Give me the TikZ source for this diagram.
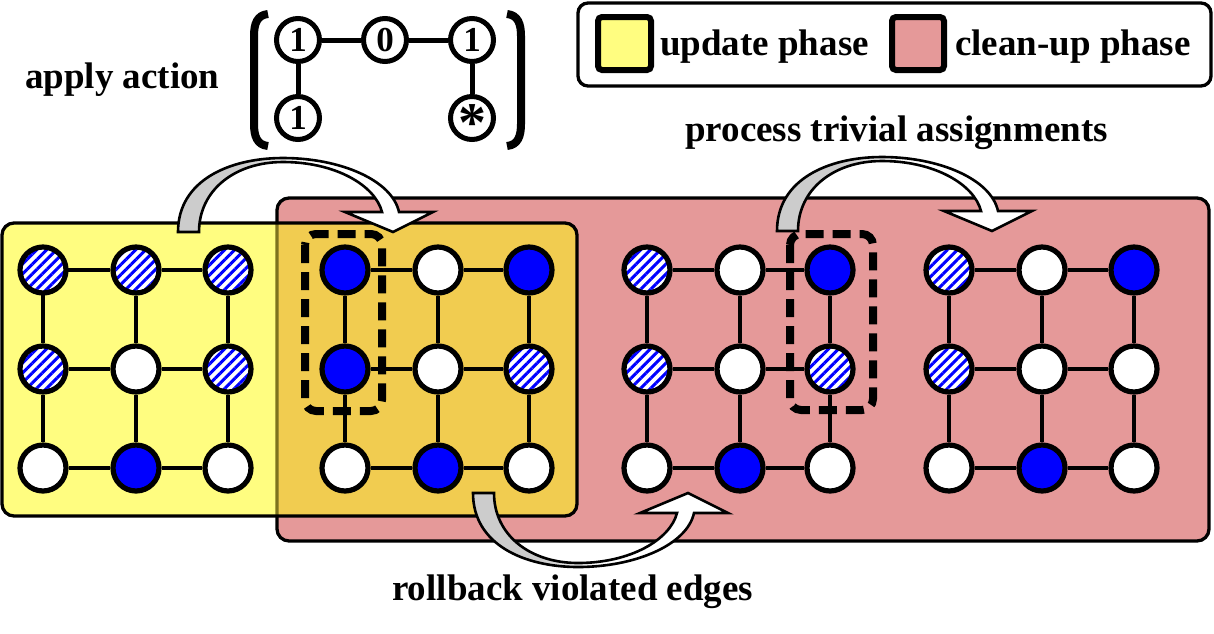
\documentclass[tikz,border=0pt]{standalone}
\usepackage{fontspec}
\setmainfont{Liberation Serif}
\usetikzlibrary{patterns.meta}
\definecolor{ylw}{RGB}{255,253,128}
\definecolor{pnk}{RGB}{229,153,153}
\definecolor{ovl}{RGB}{241,204,80}
\definecolor{olv}{RGB}{125,115,30}
\definecolor{arrg}{RGB}{204,204,204}
\pgfdeclarehorizontalshading{arrowshade}{100bp}{color(0bp)=(arrg); color(38bp)=(arrg); color(50bp)=(white); color(100bp)=(white)}
\newcommand\mkgrid[4]{%
  \foreach \xx/\s [count=\c from 0] in {#2} {\node[\s] (#1-0-\c) at (\xx,270) {};}
  \foreach \xx/\s [count=\c from 0] in {#3} {\node[\s] (#1-1-\c) at (\xx,369) {};}
  \foreach \xx/\s [count=\c from 0] in {#4} {\node[\s] (#1-2-\c) at (\xx,468) {};}
  \foreach \r in {0,1,2} {\draw[gedge] (#1-\r-0) -- (#1-\r-1) -- (#1-\r-2);}
  \foreach \c in {0,1,2} {\draw[gedge] (#1-0-\c) -- (#1-1-\c) -- (#1-2-\c);}
}
\begin{document}
\begin{tikzpicture}[x=1pt,y=-1pt,
  gnode/.style={circle, draw=black, line width=5.2pt, minimum size=46pt, inner sep=0pt},
  wn/.style={gnode, fill=white},
  bn/.style={gnode, fill=blue},
  hn/.style={gnode, preaction={fill=white}, pattern={Lines[angle=45,distance=7pt,line width=3pt]}, pattern color=blue},
  gedge/.style={line width=4.3pt},
  anode/.style={circle, draw=black, line width=5pt, minimum size=43pt, inner sep=0pt, fill=white, font=\fontsize{35}{35}\selectfont\bfseries, text height=23pt, text depth=0pt},
  aedge/.style={line width=5pt},
  lbl/.style={inner sep=0pt, font=\fontsize{37}{40}\selectfont\bfseries},
  frame/.style={line width=3.3pt, rounded corners=12pt},
  dashbox/.style={line width=8pt, dash pattern=on 18pt off 9pt, rounded corners=11pt},
  legsq/.style={line width=6pt, rounded corners=4pt},
  bentarrow/.pic={\shadedraw[shading=arrowshade, draw=black, line width=2.6pt, line join=miter]
    (0,0) .. controls (0,-52) and (52,-74) .. (105,-74) .. controls (162,-74) and (214,-52) .. (221,-20)
    -- (255,-20) -- (215,0) -- (167,-20) -- (204,-20)
    .. controls (197,-47) and (157,-70) .. (105,-70) .. controls (57,-70) and (21,-42) .. (21,0) -- cycle;}
]
\useasboundingbox (0,0) rectangle (1214,633);
% phase boxes
\draw[frame, fill=pnk] (277,198) rectangle (1209,541);
\fill[ylw, rounded corners=12pt] (2,223) rectangle (577,516);
\begin{scope}
  \clip[rounded corners=12pt] (277,198) rectangle (1209,541);
  \fill[ovl, rounded corners=12pt] (2,223) rectangle (577,516);
\end{scope}
\begin{scope}
  \clip[rounded corners=12pt] (2,223) rectangle (577,516);
  \draw[frame, draw=olv] (277,198) rectangle (1209,541);
\end{scope}
\draw[frame] (2,223) rectangle (577,516);
% legend
\draw[line width=3.3pt, rounded corners=10pt, fill=white] (578,3) rectangle (1211,86);
\draw[legsq, fill=ylw] (598,17) rectangle (651,70);
\draw[legsq, fill=pnk] (892,17) rectangle (944,70);
\node[lbl, anchor=base west] (tupd) at (660,55) {update phase};
\node[lbl, anchor=base west] (tclean) at (955,55) {clean-up phase};
% labels
\node[lbl, anchor=base west] (tapply) at (25,88) {apply action};
\node[lbl, anchor=base west] (tproc) at (685,141) {process trivial assignments};
\node[lbl, anchor=base west] (troll) at (392,600) {rollback violated edges};
% action
\draw[line width=8pt] (268,14) .. controls (257,15) and (254,24) .. (254,36) -- (254,124) .. controls (254,136) and (257,145) .. (268,146);
\draw[line width=8pt] (507,14) .. controls (518,15) and (521,24) .. (521,36) -- (521,124) .. controls (521,136) and (518,145) .. (507,146);
\node[anode] (a1) at (298,40) {1};
\node[anode] (a2) at (385,40) {0};
\node[anode] (a3) at (472,40) {1};
\node[anode] (a4) at (298,118) {1};
\node[anode] (a5) at (472,118) {\raisebox{-12pt}{\fontsize{56}{56}\selectfont *}};
\draw[aedge] (a1) -- (a2) -- (a3);
\draw[aedge] (a1) -- (a4);
\draw[aedge] (a3) -- (a5);
% arrows
\pic at (178,232) {bentarrow};
\pic at (777,231) {bentarrow};
\pic[yscale=-1] at (473,493) {bentarrow};
% dashed boxes
\draw[dashbox] (305,234) rectangle (382,411);
\draw[dashbox] (790,234) rectangle (873,410);
% grids
\mkgrid{G1}{43/hn,136/hn,228/hn}{43/hn,136/wn,228/hn}{43/wn,136/bn,228/wn}
\mkgrid{G2}{345/bn,438/wn,529/bn}{345/bn,438/wn,529/hn}{345/wn,438/bn,529/wn}
\mkgrid{G3}{647/hn,740/wn,830/bn}{647/hn,740/wn,830/hn}{647/wn,740/bn,830/wn}
\mkgrid{G4}{949/hn,1042/wn,1134/bn}{949/hn,1042/wn,1134/wn}{949/wn,1042/bn,1134/wn}
\end{tikzpicture}
\end{document}
